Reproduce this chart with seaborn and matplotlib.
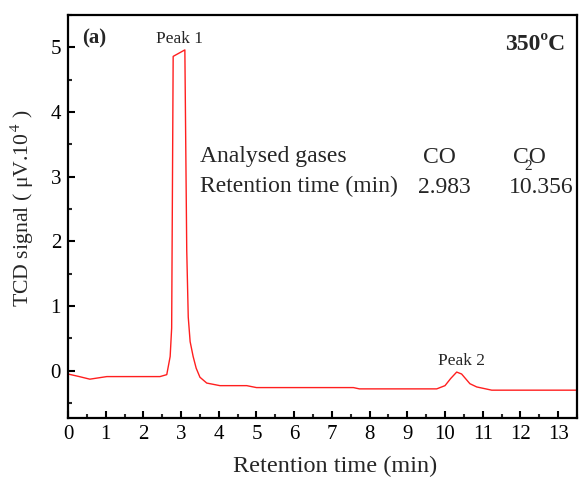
import matplotlib
matplotlib.use("Agg")
import matplotlib.pyplot as plt
from matplotlib.ticker import MultipleLocator
import seaborn as sns
import pandas as pd

# Chromatogram trace (retention time in min, TCD signal in μV·10^4)
time_min = [0, 0.3, 0.58, 1.03, 1.5, 2.0, 2.44, 2.62, 2.71, 2.75, 2.79, 3.10,
            3.15, 3.19, 3.24, 3.32, 3.40, 3.50, 3.68, 4.03, 4.74, 5.0, 6.0,
            7.0, 7.57, 7.73, 9.0, 9.78, 10.0, 10.15, 10.31, 10.44, 10.66,
            10.84, 11.24, 12.0, 13.5]
signal = [-0.05, -0.09, -0.13, -0.09, -0.09, -0.09, -0.09, -0.06, 0.22, 0.66,
          4.86, 4.96, 1.86, 0.83, 0.45, 0.22, 0.04, -0.10, -0.19, -0.23,
          -0.23, -0.26, -0.26, -0.26, -0.26, -0.28, -0.28, -0.28, -0.23,
          -0.12, -0.02, -0.05, -0.20, -0.25, -0.30, -0.30, -0.30]

gases = ["CO", "CO"]
retention = ["2.983", "10.356"]
x_ticks = list(range(0, 14))
y_ticks = [0, 1, 2, 3, 4, 5]

sns.set_style("ticks", {"xtick.direction": "in", "ytick.direction": "in"})
plt.rcParams["font.family"] = ["Liberation Serif", "DejaVu Serif"]
plt.rcParams["mathtext.fontset"] = "stix"

df = pd.DataFrame({"t": time_min, "s": signal})

fig = plt.figure(figsize=(5.79, 4.83), dpi=100)
ax = fig.add_axes([0.1174, 0.1346, 0.8791, 0.8344])

sns.lineplot(data=df, x="t", y="s", ax=ax, color="#ff1f1f", lw=1.0,
             estimator=None, sort=False)

ax.set_xlim(0, 13.5)
ax.set_ylim(-0.73, 5.5)
ax.set_xticks(x_ticks)
ax.set_yticks(y_ticks)
ax.xaxis.set_minor_locator(MultipleLocator(0.5))
ax.yaxis.set_minor_locator(MultipleLocator(0.5))
ax.tick_params(which="major", length=5, width=1.5, labelsize=15, pad=5,
               colors="black")
ax.tick_params(which="minor", length=3, width=1.5)
ax.tick_params(top=False, right=False, which="both")
for sp in ax.spines.values():
    sp.set_visible(True)
    sp.set_linewidth(1.6)
    sp.set_color("black")

ax.set_xlabel("Retention time (min)", fontsize=17.5)
ax.xaxis.set_label_coords(0.525, -0.095)
ax.set_ylabel("TCD signal ( μV.10$^{\\,4}$ )", fontsize=15.7)
ax.yaxis.set_label_coords(-0.062, 0.52)

# annotations
ax.text(0.37, 5.06, "(a)", fontsize=15, fontweight="bold", va="baseline", ha="left")
ax.text(13.18, 4.96, "350ºC", fontsize=17, fontweight="bold", va="baseline", ha="right")
ax.text(2.97, 5.06, "Peak 1", fontsize=12.5, va="baseline", ha="center")
ax.text(10.44, 0.09, "Peak 2", fontsize=12.5, va="baseline", ha="center")

ax.text(3.5, 3.23, "Analysed gases", fontsize=17, va="baseline", ha="left")
ax.text(3.5, 2.76, "Retention time (min)", fontsize=17, va="baseline", ha="left")
ax.text(9.85, 3.21, gases[0], fontsize=17, va="baseline", ha="center")
ax.text(12.24, 3.21, gases[1], fontsize=17, va="baseline", ha="center")
ax.text(12.2, 3.15, "2", fontsize=11, va="center", ha="center")
ax.text(9.97, 2.75, retention[0], fontsize=17, va="baseline", ha="center")
ax.text(12.56, 2.75, retention[1], fontsize=17, va="baseline", ha="center")

fig.savefig("out.png", dpi=100)
